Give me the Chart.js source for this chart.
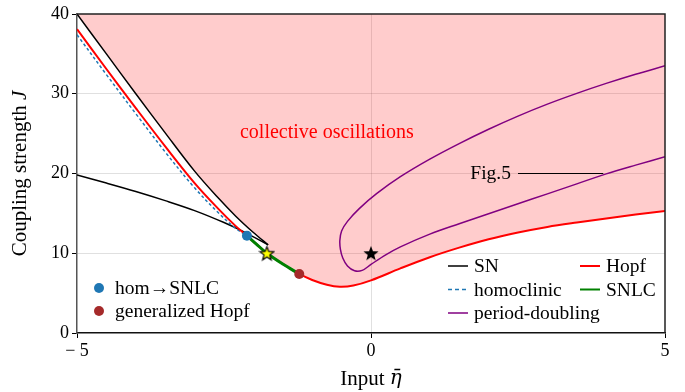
<!DOCTYPE html>
<html><head><meta charset="utf-8">
<script src="https://cdn.jsdelivr.net/npm/chart.js@4/dist/chart.umd.min.js"></script>
<style>html,body{margin:0;padding:0;background:#fff}#wrap{width:685px;height:392px;position:relative}</style>
</head><body><div id="wrap"><canvas id="c" width="685" height="392"></canvas></div>
<script>
// ---- data (eta, J) ----
const xTicks = [-5, 0, 5];
const yTicks = [0, 10, 20, 30, 40];
const snUpper = [[-5,40],[-4.5,35.0],[-4,30.0],[-3.5,25.1],[-3,20.3],[-2.6,16.95],[-2.3,14.65],[-2.0,12.6],[-1.75,11.05]];
const snLower = [[-5,19.8],[-4.5,18.8],[-4,17.75],[-3.5,16.6],[-3,15.35],[-2.5,13.85],[-2.11,12.5],[-1.75,11.05]];
const hopf = [[-5,38.1],[-4.5,33.1],[-4,28.2],[-3.5,23.4],[-3,18.8],[-2.6,15.6],[-2.3,13.4],[-2.11,12.2],[-1.95,11.15],[-1.77,10.0],[-1.5,8.65],[-1.22,7.4],[-1.0,6.65],[-0.75,6.05],[-0.53,5.8],[-0.3,5.95],[0,6.6],[0.5,8.1],[1.0,9.5],[1.5,10.7],[2.0,11.75],[2.5,12.6],[3.0,13.3],[3.5,13.85],[4.0,14.35],[4.5,14.85],[5,15.3]];
const homoclinic = [[-5,37.4],[-4.5,32.4],[-4,27.5],[-3.5,22.7],[-3,18.2],[-2.6,15.1],[-2.3,13.1],[-2.11,12.2]];
const snlc = [[-2.11,12.2],[-1.95,11.15],[-1.77,10.0],[-1.5,8.65],[-1.22,7.4]];
const periodDoubling = [[5,33.5],[4.5,32.45],[4,31.3],[3.5,30.05],[3,28.7],[2.5,27.2],[2,25.55],[1.5,23.75],[1.0,21.8],[0.5,19.6],[0.1,17.5],[-0.2,15.6],[-0.4,14.0],[-0.5,12.8],[-0.53,11.6],[-0.52,10.5],[-0.48,9.4],[-0.4,8.4],[-0.28,7.8],[-0.15,7.85],[0,8.6],[0.25,9.8],[0.5,10.8],[1.0,12.4],[1.5,13.7],[2.0,14.95],[2.5,16.2],[3.0,17.45],[3.5,18.7],[4.0,19.95],[4.5,21.05],[5,22.1]];
const homToSnlc = [[-2.11,12.2]];
const genHopf = [[-1.22,7.4]];
const starYellow = [[-1.77,10.0]];
const starBlack = [[0,10]];
const fig5Line = [[2.5,20.0],[3.95,20.0]];
const fig5Label = [2.38, 20.0];
const regionLabel = [-0.75, 25.1];

const pts = a => a.map(p => ({x:p[0], y:p[1]}));
// boundary of oscillation region: upper SN branch up to the cusp, then Hopf curve
const regionBoundary = snUpper.concat(hopf.filter(p => p[0] >= starYellow[0][0]));

const FONT = 'Liberation Serif';

function makeStar(size, fill, stroke, lw) {
  const c = document.createElement('canvas');
  c.width = size; c.height = size;
  const g = c.getContext('2d');
  const cx = size/2, cy = size/2 + size*0.04;
  const R = size/2 - lw, r = R*0.42;
  g.beginPath();
  for (let i = 0; i < 10; i++) {
    const ang = -Math.PI/2 + i*Math.PI/5;
    const rr = i % 2 === 0 ? R : r;
    const px = cx + rr*Math.cos(ang), py = cy + rr*Math.sin(ang);
    i === 0 ? g.moveTo(px, py) : g.lineTo(px, py);
  }
  g.closePath();
  g.fillStyle = fill; g.fill();
  if (lw > 0) { g.lineWidth = lw; g.strokeStyle = stroke; g.lineJoin = 'miter'; g.stroke(); }
  return c;
}

function drawMixed(ctx, parts, cx, cy) {
  let total = 0;
  parts.forEach(p => { ctx.font = p.font; p.w = ctx.measureText(p.text).width; total += p.w; });
  let xx = cx - total/2;
  ctx.textAlign = 'left'; ctx.textBaseline = 'middle';
  parts.forEach(p => { ctx.font = p.font; ctx.fillText(p.text, xx, cy + (p.dy || 0)); xx += p.w; });
}

const decor = {
  id: 'decor',
  afterDatasetsDraw(chart) {
    const {ctx, chartArea: a, scales: {x, y}} = chart;
    ctx.save();
    // top & right frame
    ctx.strokeStyle = '#222'; ctx.lineWidth = 1.5;
    ctx.beginPath();
    ctx.moveTo(a.left, a.top); ctx.lineTo(a.right, a.top); ctx.lineTo(a.right, a.bottom);
    ctx.stroke();
    // region label
    ctx.font = '20px "' + FONT + '"';
    ctx.fillStyle = '#ff0000'; ctx.textAlign = 'center'; ctx.textBaseline = 'middle';
    ctx.fillText('collective oscillations', x.getPixelForValue(regionLabel[0]), y.getPixelForValue(regionLabel[1]));
    // Fig.5 pointer
    ctx.font = '19.5px "' + FONT + '"';
    ctx.fillStyle = '#000'; ctx.textAlign = 'right';
    ctx.fillText('Fig.5', x.getPixelForValue(fig5Label[0]), y.getPixelForValue(fig5Label[1]));
    ctx.strokeStyle = '#000'; ctx.lineWidth = 1.2;
    ctx.beginPath();
    ctx.moveTo(x.getPixelForValue(fig5Line[0][0]), y.getPixelForValue(fig5Line[0][1]));
    ctx.lineTo(x.getPixelForValue(fig5Line[1][0]), y.getPixelForValue(fig5Line[1][1]));
    ctx.stroke();
    // right legend (lines)
    const ds = chart.data.datasets;
    const find = l => ds.find(d => d.label === l);
    const entries = [
      ['SN', a.right - 217, a.bottom - 67],
      ['Hopf', a.right - 85, a.bottom - 67],
      ['homoclinic', a.right - 217, a.bottom - 43.5],
      ['SNLC', a.right - 85, a.bottom - 43.5],
      ['period-doubling', a.right - 217, a.bottom - 20]
    ];
    ctx.textAlign = 'left'; ctx.fillStyle = '#000';
    entries.forEach(([lab, lx, ly]) => {
      const d = find(lab);
      ctx.save();
      ctx.strokeStyle = d.borderColor; ctx.lineWidth = Math.min(d.borderWidth, 2);
      ctx.setLineDash(d.borderDash ? [4, 3] : []);
      ctx.beginPath(); ctx.moveTo(lx, ly); ctx.lineTo(lx + 20, ly); ctx.stroke();
      ctx.restore();
      ctx.fillText(lab, lx + 26, ly + 1);
    });
    // left legend (markers)
    const mk = [['hom\u2192SNLC', a.left + 22, a.bottom - 45], ['generalized Hopf', a.left + 22, a.bottom - 22]];
    mk.forEach(([lab, lx, ly]) => {
      const d = find(lab);
      ctx.fillStyle = d.backgroundColor;
      ctx.beginPath(); ctx.arc(lx, ly, 5, 0, Math.PI*2); ctx.fill();
      ctx.fillStyle = '#000';
      ctx.fillText(lab, lx + 16, ly + 1);
    });
    // axis titles
    ctx.fillStyle = '#000';
    drawMixed(ctx, [
      {text: 'Input ', font: '21px "' + FONT + '"'},
      {text: '\u03b7\u0304', font: 'italic 20px "DejaVu Serif"', dy: 0}
    ], (a.left + a.right)/2, 379);
    ctx.save();
    ctx.translate(20, (a.top + a.bottom)/2);
    ctx.rotate(-Math.PI/2);
    drawMixed(ctx, [
      {text: 'Coupling strength ', font: '21px "' + FONT + '"'},
      {text: 'J', font: 'italic 21px "' + FONT + '"'}
    ], 0, 0);
    ctx.restore();
    ctx.restore();
  }
};

const lineBase = {pointRadius: 0, pointHoverRadius: 0, fill: false, tension: 0.35};

new Chart(document.getElementById('c'), {
  type: 'line',
  data: {
    datasets: [
      {label: 'star', data: pts(starYellow), showLine: false, pointStyle: makeStar(17, '#ffff00', '#000', 1.2), pointRadius: 8, order: 0},
      {label: 'starBlack', data: pts(starBlack), showLine: false, pointStyle: makeStar(16, '#000', '#000', 0), pointRadius: 8, order: 0},
      {label: 'hom\u2192SNLC', data: pts(homToSnlc), showLine: false, pointStyle: 'circle', pointRadius: 5, backgroundColor: '#1f77b4', borderColor: '#1f77b4', borderWidth: 0, order: 1},
      {label: 'generalized Hopf', data: pts(genHopf), showLine: false, pointStyle: 'circle', pointRadius: 5, backgroundColor: '#a52a2a', borderColor: '#a52a2a', borderWidth: 0, order: 1},
      Object.assign({label: 'SNLC', data: pts(snlc), borderColor: '#008000', borderWidth: 3, order: 2}, lineBase),
      Object.assign({label: 'Hopf', data: pts(hopf), borderColor: '#ff0000', borderWidth: 2, order: 3}, lineBase),
      Object.assign({label: 'homoclinic', data: pts(homoclinic), borderColor: '#1f77b4', borderWidth: 1.5, borderDash: [3, 2.5], order: 4}, lineBase),
      Object.assign({label: 'SN', data: pts(snUpper), borderColor: '#000', borderWidth: 1.5, order: 5}, lineBase),
      Object.assign({label: 'SN lower', data: pts(snLower), borderColor: '#000', borderWidth: 1.5, order: 5}, lineBase),
      Object.assign({label: 'period-doubling', data: pts(periodDoubling), borderColor: '#800080', borderWidth: 1.5, order: 6}, lineBase),
      Object.assign({}, lineBase, {label: 'region', data: pts(regionBoundary), borderColor: 'rgba(0,0,0,0)', borderWidth: 0, backgroundColor: 'rgba(255,0,0,0.2)', fill: 'end', order: 10})
    ]
  },
  options: {
    responsive: false, animation: false, devicePixelRatio: 1,
    layout: {padding: {left: 0, top: 14, right: 20, bottom: 0}},
    plugins: {legend: {display: false}, tooltip: {enabled: false}},
    scales: {
      x: {
        type: 'linear', min: -5, max: 5,
        afterBuildTicks: s => { s.ticks = xTicks.map(v => ({value: v})); },
        afterFit: s => { s.height = 59; },
        ticks: {color: '#000', font: {family: FONT, size: 18}, padding: 2,
          callback: v => v < 0 ? '\u2212 ' + Math.abs(v) : String(v), maxRotation: 0},
        grid: {color: c => c.tick && c.tick.value === 0 ? 'rgba(0,0,0,0.12)' : 'rgba(0,0,0,0)', tickColor: '#000', tickLength: 5, lineWidth: 1},
        border: {display: true, color: '#111', width: 1.5},
        title: {display: false}
      },
      y: {
        type: 'linear', min: 0, max: 40,
        afterBuildTicks: s => { s.ticks = yTicks.map(v => ({value: v})); },
        afterFit: s => { s.width = 77; },
        ticks: {color: '#000', font: {family: FONT, size: 18}, padding: 3},
        grid: {color: c => c.tick && c.tick.value > 0 && c.tick.value < 40 ? 'rgba(0,0,0,0.12)' : 'rgba(0,0,0,0)', tickColor: '#000', tickLength: 5, lineWidth: 1},
        border: {display: true, color: '#555', width: 1.5},
        title: {display: false}
      }
    }
  },
  plugins: [decor]
});
</script></body></html>
